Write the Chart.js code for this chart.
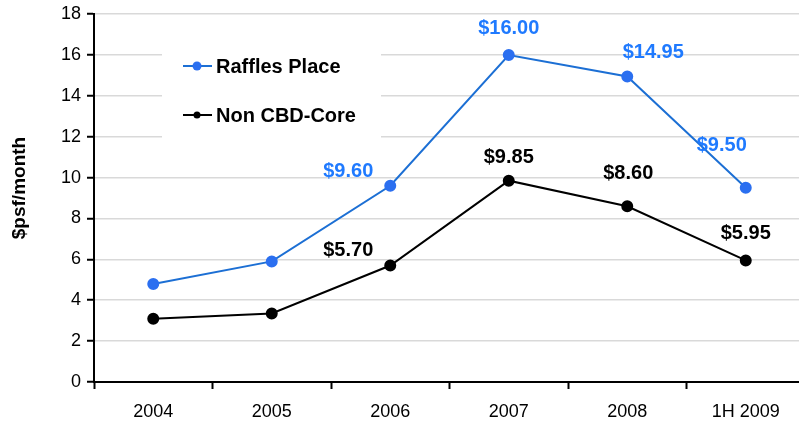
<!DOCTYPE html>
<html lang="en">
<head>
  <meta charset="UTF-8" />
  <title>Rents</title>
  <script src="https://cdn.jsdelivr.net/npm/chart.js"></script>
  <style>
    html, body { margin: 0; padding: 0; background: #fff; overflow: hidden; }
    .wrap { width: 812px; height: 421px; }
  </style>
</head>
<body>
  <div class="wrap"><canvas id="chart" width="812" height="421"></canvas></div>
  <script>
    const years = ['2004', '2005', '2006', '2007', '2008', '1H 2009'];
    const raffles = [4.8, 5.9, 9.6, 16.0, 14.95, 9.5];
    const nonCbd = [3.1, 3.35, 5.7, 9.85, 8.6, 5.95];
    const yTicks = [0, 2, 4, 6, 8, 10, 12, 14, 16, 18];
    // which points carry a value label, and where the label sits relative to the point
    const rafflesLabelled = [false, false, true, true, true, true];
    const rafflesOffsets = [null, null, [-42, -14], [0, -26], [26, -24], [-24, -42]];
    const nonLabelled = [false, false, true, true, true, true];
    const nonOffsets = [null, null, [-42, -15], [0, -23], [1, -33], [0, -27]];

    const FONT = '"Liberation Sans", Arial, sans-serif';
    const BLUE_LINE = '#1c6fd4';
    const BLUE_PT = '#2b6ff0';
    const BLUE_TXT = '#1f7aff';

    const valueLabels = {
      id: 'valueLabels',
      afterDatasetsDraw(chart) {
        const ctx = chart.ctx;
        ctx.save();
        ctx.font = 'bold 20px ' + FONT;
        ctx.textAlign = 'center';
        ctx.textBaseline = 'middle';
        const sets = [
          { idx: 0, vals: raffles, on: rafflesLabelled, off: rafflesOffsets, color: BLUE_TXT },
          { idx: 1, vals: nonCbd, on: nonLabelled, off: nonOffsets, color: '#000' }
        ];
        sets.forEach(s => {
          const meta = chart.getDatasetMeta(s.idx);
          meta.data.forEach((pt, i) => {
            if (!s.on[i]) return;
            ctx.fillStyle = s.color;
            ctx.fillText('$' + s.vals[i].toFixed(2), pt.x + s.off[i][0], pt.y + s.off[i][1]);
          });
        });
        ctx.restore();
      }
    };

    // legend sits in a white box inside the plot; y title drawn here too
    const boxLegend = {
      id: 'boxLegend',
      afterDatasetsDraw(chart) {
        const ctx = chart.ctx;
        ctx.save();
        ctx.fillStyle = '#fff';
        ctx.fillRect(162, 44, 219, 96);
        const items = [
          { text: 'Raffles Place', line: BLUE_LINE, pt: BLUE_PT, y: 66, r: 4.5 },
          { text: 'Non CBD-Core', line: '#000', pt: '#000', y: 115, r: 3.5 }
        ];
        items.forEach(it => {
          ctx.strokeStyle = it.line;
          ctx.lineWidth = 2;
          ctx.beginPath();
          ctx.moveTo(183, it.y);
          ctx.lineTo(212, it.y);
          ctx.stroke();
          ctx.fillStyle = it.pt;
          ctx.beginPath();
          ctx.arc(197, it.y, it.r, 0, Math.PI * 2);
          ctx.fill();
          ctx.fillStyle = '#000';
          ctx.font = 'bold 20px ' + FONT;
          ctx.textAlign = 'left';
          ctx.textBaseline = 'middle';
          ctx.fillText(it.text, 216, it.y + 1);
        });

        ctx.translate(20, 188);
        ctx.rotate(-Math.PI / 2);
        ctx.fillStyle = '#000';
        ctx.font = 'bold 19px ' + FONT;
        ctx.textAlign = 'center';
        ctx.textBaseline = 'middle';
        ctx.fillText('$psf/month', 0, 0);
        ctx.restore();
      }
    };

    new Chart(document.getElementById('chart').getContext('2d'), {
      type: 'line',
      data: {
        labels: years,
        datasets: [
          {
            label: 'Raffles Place',
            data: raffles,
            borderColor: BLUE_LINE,
            backgroundColor: BLUE_PT,
            pointBackgroundColor: BLUE_PT,
            pointBorderColor: BLUE_PT,
            borderWidth: 2,
            pointRadius: 5,
            tension: 0
          },
          {
            label: 'Non CBD-Core',
            data: nonCbd,
            borderColor: '#000',
            backgroundColor: '#000',
            pointBackgroundColor: '#000',
            pointBorderColor: '#000',
            borderWidth: 2,
            pointRadius: 5,
            tension: 0
          }
        ]
      },
      options: {
        responsive: false,
        animation: false,
        layout: { padding: { top: 14, right: 6, left: 0, bottom: 0 } },
        plugins: {
          legend: { display: false },
          tooltip: { enabled: false }
        },
        scales: {
          x: {
            offset: true,
            grid: { offset: true, drawOnChartArea: false, drawTicks: true, tickLength: 7, tickColor: '#000', tickWidth: 2 },
            border: { color: '#000', width: 2 },
            ticks: { color: '#000', padding: 12, font: { size: 18, family: FONT } },
            afterFit(scale) { scale.height = 39; }
          },
          y: {
            min: 0,
            max: 18,
            afterBuildTicks(scale) { scale.ticks = yTicks.map(v => ({ value: v })); },
            grid: { color: '#d9d9d9', lineWidth: 1.5, tickLength: 7, tickColor: '#000', tickWidth: 2 },
            border: { color: '#000', width: 2 },
            ticks: { color: '#000', padding: 6, font: { size: 18, family: FONT, lineHeight: 0.9 } },
            afterFit(scale) { scale.width = 94; }
          }
        }
      },
      plugins: [boxLegend, valueLabels]
    });
  </script>
</body>
</html>
